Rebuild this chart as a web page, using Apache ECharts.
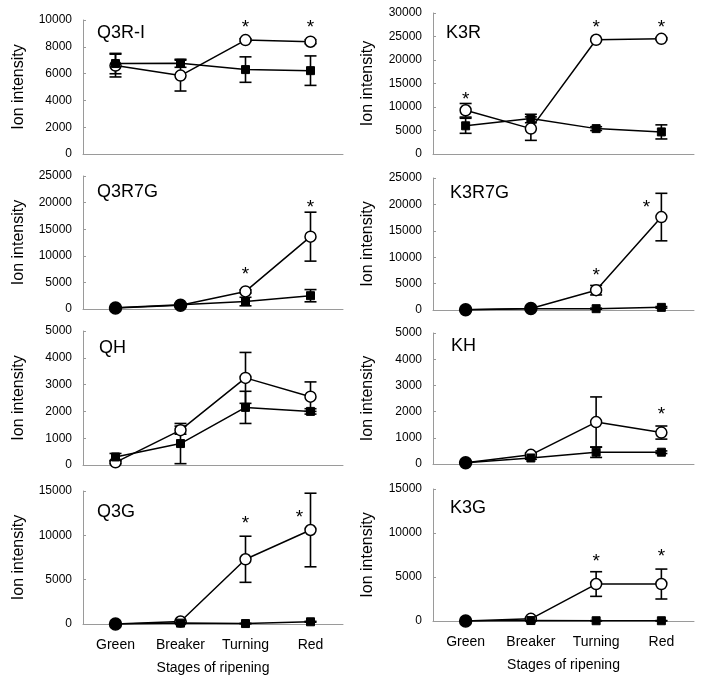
<!DOCTYPE html>
<html>
<head>
<meta charset="utf-8">
<script src="https://cdn.jsdelivr.net/npm/echarts@6/dist/echarts.min.js"></script>
<style>
html,body{margin:0;padding:0;background:#fff;}
#chart{width:708px;height:684px;}
</style>
</head>
<body>
<div id="chart"></div>
<script>
// ---------------- DATA ----------------
const stages = ['Green', 'Breaker', 'Turning', 'Red'];
const panelNames = ['Q3R-I', 'K3R', 'Q3R7G', 'K3R7G', 'QH', 'KH', 'Q3G', 'K3G'];
const yMax = [10000, 30000, 25000, 25000, 5000, 5000, 15000, 15000];
const yStep = [2000, 5000, 5000, 5000, 1000, 1000, 5000, 5000];

// open-circle series (mean, error)
const circleQ3RI = [6600, 5850, 8500, 8380];
const circleQ3RIErr = [850, 1150, 100, 150];
const circleK3R = [9300, 5400, 24300, 24500];
const circleK3RErr = [1450, 2500, 200, 200];
const circleQ3R7G = [200, 700, 3300, 13600];
const circleQ3R7GErr = [100, 100, 300, 4600];
const circleK3R7G = [50, 300, 3750, 17600];
const circleK3R7GErr = [50, 100, 900, 4500];
const circleQH = [100, 1300, 3250, 2550];
const circleQHErr = [50, 150, 950, 550];
const circleKH = [50, 350, 1600, 1200];
const circleKHErr = [30, 80, 960, 250];
const circleQ3G = [0, 280, 7300, 10600];
const circleQ3GErr = [0, 50, 2600, 4150];
const circleK3G = [0, 250, 4200, 4200];
const circleK3GErr = [0, 50, 1400, 1700];

// filled-square series (mean, error)
const squareQ3RI = [6750, 6770, 6300, 6220];
const squareQ3RIErr = [760, 300, 950, 1100];
const squareK3R = [6000, 7550, 5400, 4700];
const squareK3RErr = [1600, 900, 400, 1500];
const squareQ3R7G = [250, 800, 1400, 2500];
const squareQ3R7GErr = [100, 150, 800, 1150];
const squareK3R7G = [30, 250, 250, 500];
const squareK3R7GErr = [20, 80, 100, 150];
const squareQH = [300, 800, 2150, 2000];
const squareQHErr = [130, 750, 600, 100];
const squareKH = [50, 230, 450, 450];
const squareKHErr = [30, 50, 200, 50];
const squareQ3G = [0, 100, 50, 250];
const squareQ3GErr = [0, 30, 30, 50];
const squareK3G = [0, 50, 30, 30];
const squareK3GErr = [0, 20, 20, 20];

// significance marks: [stage index, y value]
const starsQ3RI = [[2, 9700], [3, 9700]];
const starsK3R = [[0, 12400], [2, 27700], [3, 27700]];
const starsQ3R7G = [[2, 7200], [3, 19800]];
const starsK3R7G = [[2, 7200], [3, 20100]];
const starsQH = [];
const starsKH = [[3, 2050]];
const starsQ3G = [[2, 11800], [3, 12400]];
const starsK3G = [[2, 7200], [3, 7700]];

const circles = [circleQ3RI, circleK3R, circleQ3R7G, circleK3R7G, circleQH, circleKH, circleQ3G, circleK3G];
const circleErrs = [circleQ3RIErr, circleK3RErr, circleQ3R7GErr, circleK3R7GErr, circleQHErr, circleKHErr, circleQ3GErr, circleK3GErr];
const squares = [squareQ3RI, squareK3R, squareQ3R7G, squareK3R7G, squareQH, squareKH, squareQ3G, squareK3G];
const squareErrs = [squareQ3RIErr, squareK3RErr, squareQ3R7GErr, squareK3R7GErr, squareQHErr, squareKHErr, squareQ3GErr, squareK3GErr];
const stars = [starsQ3RI, starsK3R, starsQ3R7G, starsK3R7G, starsQH, starsKH, starsQ3G, starsK3G];

// ---------------- LAYOUT / STYLE ----------------
const GRIDS = [
  {left: 83, top: 20, width: 260, height: 134},
  {left: 433, top: 13, width: 261, height: 141},
  {left: 83, top: 176, width: 260, height: 133},
  {left: 433, top: 178, width: 261, height: 132},
  {left: 83, top: 331, width: 260, height: 134},
  {left: 433, top: 333, width: 261, height: 131},
  {left: 83, top: 491, width: 260, height: 133},
  {left: 433, top: 489, width: 261, height: 132}
];
const TITLE_POS = [[97, 24], [446, 24], [97, 183], [450, 184], [99, 339], [451, 337], [97, 503], [450, 499]];
const SOLID_CIRCLE = [[], [], [0, 1], [0, 1], [], [0], [0], [0]];
const STAR_SHIFT = [{}, {}, {}, {3: -15}, {}, {}, {3: -11}, {}];
const FONT = '"Liberation Sans", Arial, sans-serif';
const AXIS_COLOR = '#9a9a9a';

const option = {
  animation: false,
  backgroundColor: '#fff',
  textStyle: {fontFamily: FONT},
  title: [], grid: [], xAxis: [], yAxis: [], series: []
};

function errorSeries(p, mean, err) {
  return {
    type: 'custom', xAxisIndex: p, yAxisIndex: p, z: 1, silent: true,
    data: mean.map((m, i) => [i, m, err[i]]),
    renderItem: function (params, api) {
      const i = api.value(0), m = api.value(1), e = api.value(2);
      if (!e) return null;
      const top = api.coord([i, m + e]);
      const bot = api.coord([i, Math.max(0, m - e)]);
      const w = 6;
      const st = {stroke: '#000', lineWidth: 1.6};
      return {
        type: 'group',
        children: [
          {type: 'line', shape: {x1: top[0], y1: top[1], x2: bot[0], y2: bot[1]}, style: st},
          {type: 'line', shape: {x1: top[0] - w, y1: top[1], x2: top[0] + w, y2: top[1]}, style: st},
          {type: 'line', shape: {x1: bot[0] - w, y1: bot[1], x2: bot[0] + w, y2: bot[1]}, style: st}
        ]
      };
    }
  };
}

for (let p = 0; p < 8; p++) {
  const bottomRow = p >= 6;
  const leftCol = p % 2 === 0;
  option.grid.push(Object.assign({containLabel: false}, GRIDS[p]));
  option.title.push({
    text: panelNames[p], left: TITLE_POS[p][0], top: TITLE_POS[p][1], padding: 0,
    textStyle: {fontFamily: FONT, fontSize: 18, fontWeight: 'normal', color: '#000'}
  });
  option.xAxis.push({
    type: 'category', gridIndex: p, data: stages, boundaryGap: true,
    axisLine: {show: true, lineStyle: {color: AXIS_COLOR, width: 1}},
    axisTick: {show: false},
    axisLabel: {show: bottomRow, color: '#000', fontSize: 14, margin: 14, fontFamily: FONT},
    splitLine: {show: false},
    name: bottomRow ? 'Stages of ripening' : '',
    nameLocation: 'middle', nameGap: 37,
    nameTextStyle: {color: '#000', fontSize: 14, fontFamily: FONT}
  });
  option.yAxis.push({
    type: 'value', gridIndex: p, min: 0, max: yMax[p], interval: yStep[p],
    axisLine: {show: true, lineStyle: {color: AXIS_COLOR, width: 1}},
    axisTick: {show: true, inside: true, length: 3, lineStyle: {color: AXIS_COLOR}},
    axisLabel: {color: '#000', fontSize: 12, margin: 11, fontFamily: FONT,
      formatter: function (v) { return String(v); }},
    splitLine: {show: false},
    name: 'Ion intensity', nameLocation: 'middle', nameGap: leftCol ? 56 : 57,
    nameTextStyle: {color: '#000', fontSize: 16, fontFamily: FONT}
  });

  option.series.push(errorSeries(p, circles[p], circleErrs[p]));
  option.series.push(errorSeries(p, squares[p], squareErrs[p]));

  option.series.push({
    type: 'line', xAxisIndex: p, yAxisIndex: p, z: 2,
    symbol: 'circle', symbolSize: 11, showAllSymbol: true,
    lineStyle: {color: '#000', width: 1.5},
    itemStyle: {color: '#fff', borderColor: '#000', borderWidth: 1.5},
    data: circles[p].map((v, i) => SOLID_CIRCLE[p].indexOf(i) >= 0
      ? {value: v, symbolSize: 12, itemStyle: {color: '#000'}}
      : v)
  });
  option.series.push({
    type: 'line', xAxisIndex: p, yAxisIndex: p, z: 3,
    symbol: 'rect', symbolSize: 8, showAllSymbol: true,
    lineStyle: {color: '#000', width: 1.5},
    itemStyle: {color: '#000', borderColor: '#000', borderWidth: 1},
    data: squares[p]
  });
  const shift = STAR_SHIFT[p];
  option.series.push({
    type: 'custom', xAxisIndex: p, yAxisIndex: p, z: 4, silent: true,
    data: stars[p].map(s => [s[0], s[1]]),
    renderItem: function (params, api) {
      const i = api.value(0);
      const pt = api.coord([i, api.value(1)]);
      const dx = shift[i] || 0;
      return {
        type: 'text',
        style: {
          x: pt[0] + dx, y: pt[1] + 4, text: '*',
          fontSize: 19, fontFamily: FONT, fill: '#000',
          align: 'center', verticalAlign: 'middle'
        }
      };
    }
  });
}

const chart = echarts.init(document.getElementById('chart'), null, {renderer: 'canvas'});
chart.setOption(option);
</script>
</body>
</html>
